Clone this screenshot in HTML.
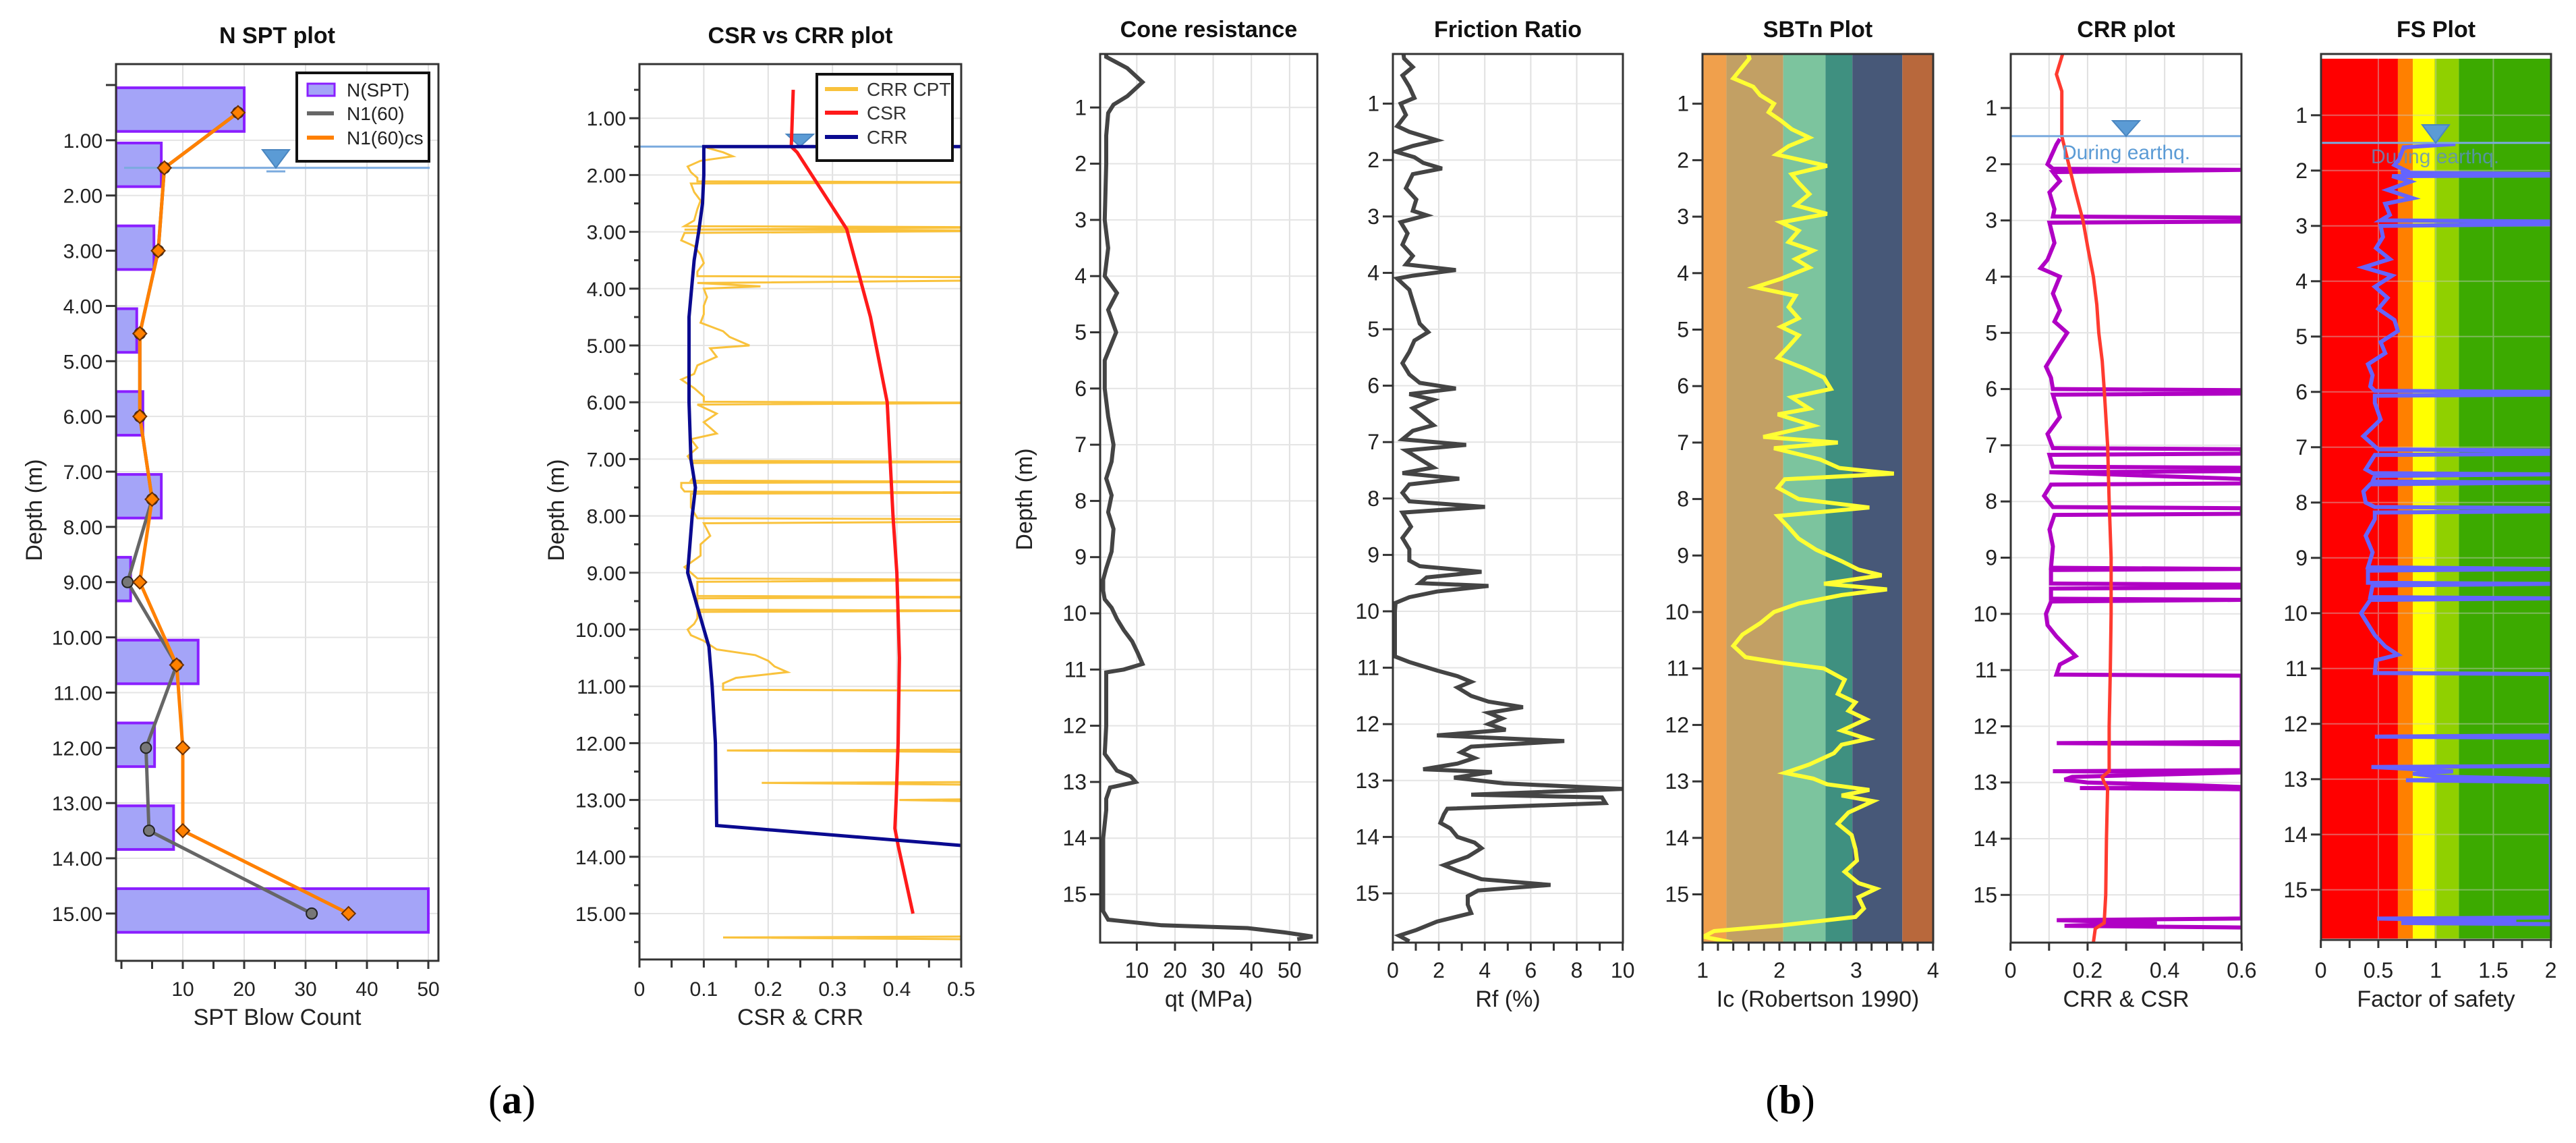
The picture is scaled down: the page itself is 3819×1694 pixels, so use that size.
<!DOCTYPE html>
<html><head><meta charset="utf-8">
<style>
html,body{margin:0;padding:0;background:#fff;}
svg{display:block;font-family:"Liberation Sans",sans-serif;}
</style></head>
<body>
<svg id="chart" xmlns="http://www.w3.org/2000/svg" width="3819" height="1694" viewBox="0 0 3819 1694">
<rect x="0" y="0" width="3819" height="1694" fill="#fff"/>
<text x="759" y="1650" font-family="Liberation Serif,serif" font-size="60" text-anchor="middle">(<tspan font-weight="bold">a</tspan>)</text>
<text x="2654" y="1650" font-family="Liberation Serif,serif" font-size="60" text-anchor="middle">(<tspan font-weight="bold">b</tspan>)</text>
</svg>
<script>
// ---------- data: N SPT plot ----------
const nsptDepth = [0.5,1.5,3,4.5,6,7.5,9,10.5,12,13.5,15];
const nsptN = [20,6.5,5.3,2.5,3.5,6.5,1.5,12.5,5.4,8.5,50];
const n160 = [19,7,6,3,3,5,1,9,4,4.5,31];
const n160cs = [19,7,6,3,3,5,3,9,10,10,37];
const nsptXTicks = [10,20,30,40,50];
const depthLabelsA = ["1.00","2.00","3.00","4.00","5.00","6.00","7.00","8.00","9.00","10.00","11.00","12.00","13.00","14.00","15.00"];
// ---------- data: CSR vs CRR plot ----------
const csrDepth = [0.5,1.5,1.6,2.95,4.5,6.0,8.0,9.0,10.5,12.0,13.0,13.5,13.8,15.0];
const csrVal = [0.239,0.236,0.245,0.322,0.359,0.385,0.394,0.40,0.404,0.402,0.399,0.397,0.402,0.425];
const crrDepth = [1.5,1.5,2.0,2.5,3.0,3.5,4.5,5.5,6.0,7.0,7.5,8.0,9.0,9.6,10.3,11.0,12.0,13.45,13.8];
const crrVal = [0.6,0.1,0.1,0.098,0.092,0.085,0.077,0.077,0.077,0.08,0.087,0.082,0.075,0.09,0.108,0.113,0.118,0.12,0.5];
const crrCptProfile = [[1.52,0.105],[1.6,0.13],[1.67,0.145],[1.75,0.095],[1.85,0.075],[1.95,0.08],[2.05,0.09],[2.11,0.09],[2.13,0.6],[2.15,0.08],[2.3,0.085],[2.45,0.095],[2.6,0.09],[2.8,0.085],[2.9,0.07],[2.92,0.6],[2.96,0.07],[2.98,0.6],[3.02,0.07],[3.15,0.065],[3.25,0.085],[3.4,0.095],[3.55,0.1],[3.7,0.09],[3.78,0.09],[3.8,0.6],[3.85,0.6],[3.9,0.09],[3.96,0.188],[4.0,0.1],[4.15,0.105],[4.3,0.1],[4.45,0.1],[4.6,0.095],[4.75,0.13],[4.85,0.14],[5.0,0.171],[5.05,0.11],[5.2,0.12],[5.35,0.09],[5.5,0.085],[5.6,0.065],[5.75,0.085],[5.9,0.1],[5.99,0.1],[6.01,0.6],[6.04,0.09],[6.2,0.12],[6.35,0.1],[6.55,0.12],[6.65,0.08],[6.8,0.09],[6.95,0.075],[7.03,0.08],[7.05,0.6],[7.07,0.08],[7.3,0.085],[7.38,0.08],[7.4,0.6],[7.42,0.065],[7.5,0.065],[7.57,0.07],[7.59,0.6],[7.61,0.08],[7.85,0.08],[8.04,0.09],[8.06,0.6],[8.1,0.6],[8.13,0.1],[8.35,0.11],[8.5,0.095],[8.7,0.095],[8.9,0.07],[9.1,0.09],[9.13,0.6],[9.16,0.09],[9.3,0.09],[9.41,0.09],[9.43,0.6],[9.45,0.09],[9.55,0.09],[9.65,0.09],[9.67,0.6],[9.69,0.09],[9.8,0.09],[9.9,0.085],[10.0,0.075],[10.1,0.08],[10.2,0.1],[10.35,0.12],[10.45,0.18],[10.55,0.2],[10.65,0.21],[10.75,0.23],[10.85,0.15],[10.95,0.13],[11.06,0.13],[11.08,0.6],[12.11,0.6],[12.13,0.136],[12.16,0.6],[12.68,0.6],[12.7,0.19],[12.74,0.6],[12.98,0.6],[13.0,0.404],[13.04,0.6],[15.4,0.6],[15.42,0.13],[15.46,0.6]];
const csrXTicks = [0,0.1,0.2,0.3,0.4,0.5];
const csrXLabels = ["0","0.1","0.2","0.3","0.4","0.5"];
// ---------- data: panel b ----------
const coneProfile = [[0.05,2],[0.1,2],[0.3,7.5],[0.55,11.5],[0.8,7.5],[0.95,3.9],[1.1,2.5],[1.5,2],[2.0,2],[2.5,1.8],[3.0,1.6],[3.5,2.5],[4.0,1.6],[4.3,4.8],[4.6,2.5],[5.0,4.6],[5.5,1.6],[6.0,1.6],[6.5,2.5],[7.0,3.9],[7.3,3.4],[7.6,2],[7.9,3.4],[8.2,2.5],[8.5,3.9],[8.9,3.4],[9.2,2],[9.4,1.2],[9.6,1.2],[9.75,1.6],[9.9,3.4],[10.1,4.8],[10.3,6.6],[10.5,8.8],[10.7,10.2],[10.9,11.5],[11.0,6.6],[11.05,2],[11.5,2],[12.0,2],[12.5,1.6],[12.8,4.8],[12.9,8.4],[13.0,9.7],[13.1,3],[13.3,2],[13.5,2],[14.0,1.2],[14.5,1.2],[15.0,1.2],[15.3,1.2],[15.45,2.5],[15.55,16.5],[15.6,39],[15.68,49],[15.75,56],[15.8,52]];
const frictionProfile = [[0.0,0.42],[0.2,0.49],[0.35,0.87],[0.5,0.42],[0.7,0.72],[0.9,0.94],[1.0,0.34],[1.2,0.57],[1.4,0.19],[1.5,0.72],[1.65,1.92],[1.75,0.87],[1.85,0.12],[1.95,0.94],[2.05,1.32],[2.15,2.14],[2.25,0.87],[2.5,0.57],[2.7,1.02],[2.9,0.87],[2.98,1.47],[3.1,0.34],[3.3,0.64],[3.5,0.42],[3.7,0.87],[3.85,0.57],[3.95,2.74],[4.05,0.87],[4.1,0.19],[4.3,0.72],[4.5,0.87],[4.7,1.02],[4.9,1.17],[5.05,1.54],[5.2,0.94],[5.4,0.72],[5.6,0.42],[5.8,0.72],[5.95,1.17],[6.05,2.74],[6.15,0.72],[6.25,1.77],[6.4,0.87],[6.55,1.32],[6.7,1.77],[6.8,0.87],[6.95,0.42],[7.05,3.19],[7.15,0.57],[7.3,1.17],[7.45,1.77],[7.55,0.42],[7.65,2.89],[7.75,0.72],[7.9,0.42],[8.05,0.72],[8.15,4.01],[8.25,0.42],[8.5,0.79],[8.7,0.42],[8.9,0.72],[9.1,0.72],[9.2,1.17],[9.3,3.86],[9.4,1.47],[9.5,1.17],[9.55,4.16],[9.65,1.92],[9.75,0.72],[9.85,0.12],[10.0,0.09],[10.5,0.09],[10.8,0.09],[10.9,0.72],[11.05,1.92],[11.15,2.81],[11.25,3.41],[11.35,2.81],[11.5,3.41],[11.6,4.16],[11.7,5.66],[11.8,4.16],[11.9,4.76],[12.0,4.16],[12.1,4.91],[12.2,1.92],[12.3,7.46],[12.4,3.41],[12.5,2.96],[12.6,3.56],[12.7,2.81],[12.8,1.32],[12.85,4.31],[12.95,2.66],[13.05,4.84],[13.15,10],[13.25,3.41],[13.3,9.1],[13.4,9.25],[13.5,2.37],[13.6,2.22],[13.75,2.07],[13.85,2.51],[14.0,2.81],[14.1,3.56],[14.2,3.86],[14.35,3.26],[14.5,2.22],[14.6,2.81],[14.75,3.86],[14.85,6.86],[14.95,3.71],[15.05,3.26],[15.2,3.26],[15.35,3.41],[15.5,1.92],[15.65,1.02],[15.75,0.27],[15.85,0.72]];
const sbtnProfile = [[0.1,1.59],[0.2,1.61],[0.35,1.52],[0.55,1.40],[0.7,1.66],[0.85,1.75],[1.0,1.93],[1.15,1.86],[1.3,2.02],[1.45,2.16],[1.6,2.39],[1.75,2.12],[1.9,1.96],[2.1,2.62],[2.25,2.16],[2.4,2.25],[2.6,2.39],[2.8,2.21],[2.95,2.62],[3.1,2.02],[3.25,2.25],[3.45,2.12],[3.6,2.44],[3.75,2.21],[3.9,2.39],[4.1,2.02],[4.25,1.68],[4.4,2.21],[4.6,2.12],[4.8,2.25],[4.95,2.02],[5.1,2.25],[5.3,2.12],[5.5,1.98],[5.7,2.35],[5.85,2.58],[6.05,2.67],[6.2,2.16],[6.4,2.39],[6.5,1.98],[6.7,2.44],[6.9,1.79],[7.0,2.76],[7.1,1.93],[7.3,2.53],[7.45,2.78],[7.55,3.49],[7.65,2.07],[7.8,1.98],[8.0,2.25],[8.15,3.17],[8.3,1.98],[8.5,2.12],[8.7,2.25],[8.9,2.48],[9.1,2.81],[9.25,3.03],[9.35,3.33],[9.5,2.58],[9.6,3.40],[9.7,2.81],[9.85,2.25],[10.0,1.93],[10.2,1.75],[10.4,1.52],[10.6,1.40],[10.8,1.56],[10.9,2.02],[11.0,2.58],[11.2,2.85],[11.45,2.76],[11.6,2.99],[11.75,2.90],[11.9,3.13],[12.1,2.81],[12.25,3.15],[12.35,2.81],[12.5,2.71],[12.7,2.39],[12.85,2.07],[12.95,2.44],[13.05,2.62],[13.15,3.17],[13.25,2.81],[13.35,3.22],[13.55,2.90],[13.75,2.76],[13.95,2.94],[14.2,2.99],[14.4,3.01],[14.6,2.85],[14.8,3.03],[14.9,3.26],[15.05,3.03],[15.25,3.10],[15.4,2.99],[15.55,2.02],[15.65,1.15],[15.75,1.01],[15.85,1.38]];
const sbtnZoneBounds = [1,1.31,2.05,2.6,2.95,3.6,4];
const crrPlotCsr = [[0,0.137],[0.4,0.119],[0.7,0.133],[1.0,0.133],[1.5,0.133],[2.0,0.151],[2.5,0.169],[3.0,0.188],[3.5,0.201],[4.0,0.215],[4.5,0.224],[5.0,0.229],[5.5,0.238],[6.0,0.243],[7.0,0.252],[8.0,0.256],[9.0,0.261],[10.0,0.261],[11.0,0.259],[12.0,0.256],[12.8,0.256],[12.9,0.238],[13.0,0.243],[13.1,0.252],[14.0,0.249],[15.0,0.247],[15.5,0.243],[15.6,0.22],[15.85,0.215]];
const crrPlotCrr = [[1.55,0.128],[1.65,0.119],[2.0,0.096],[2.08,0.11],[2.1,0.6],[2.14,0.11],[2.3,0.128],[2.5,0.101],[2.8,0.114],[2.93,0.11],[2.95,0.6],[3.02,0.6],[3.04,0.101],[3.4,0.114],[3.7,0.096],[3.85,0.078],[4.0,0.128],[4.3,0.11],[4.6,0.128],[4.8,0.114],[5.0,0.147],[5.2,0.128],[5.4,0.11],[5.6,0.092],[5.8,0.105],[6.0,0.11],[6.02,0.6],[6.08,0.6],[6.1,0.11],[6.5,0.128],[6.8,0.096],[7.05,0.11],[7.07,0.6],[7.15,0.6],[7.17,0.101],[7.38,0.11],[7.4,0.6],[7.46,0.6],[7.48,0.101],[7.6,0.6],[7.68,0.6],[7.7,0.105],[7.9,0.087],[8.1,0.11],[8.12,0.6],[8.22,0.6],[8.24,0.114],[8.5,0.101],[8.8,0.11],[9.18,0.105],[9.2,0.6],[9.22,0.105],[9.46,0.105],[9.48,0.6],[9.53,0.6],[9.55,0.105],[9.73,0.105],[9.75,0.6],[9.78,0.105],[10.0,0.092],[10.2,0.096],[10.4,0.119],[10.6,0.147],[10.75,0.169],[10.9,0.128],[11.08,0.119],[11.1,0.6],[12.28,0.6],[12.3,0.12],[12.32,0.6],[12.78,0.6],[12.8,0.11],[12.82,0.6],[12.9,0.16],[12.95,0.14],[13.0,0.2],[13.05,0.48],[13.08,0.6],[13.1,0.18],[13.12,0.6],[15.42,0.6],[15.45,0.12],[15.5,0.38],[15.55,0.14],[15.58,0.6]];
const fsProfile = [[1.52,1.17],[1.58,0.72],[1.8,0.68],[1.9,0.64],[2.0,0.74],[2.04,0.7],[2.06,2],[2.09,2],[2.1,0.62],[2.2,0.78],[2.35,0.58],[2.5,0.80],[2.6,0.56],[2.8,0.60],[2.9,0.52],[2.92,2],[2.97,2],[3.0,0.52],[3.2,0.54],[3.4,0.48],[3.6,0.60],[3.75,0.37],[3.9,0.62],[4.1,0.47],[4.3,0.58],[4.5,0.50],[4.7,0.64],[4.9,0.67],[5.1,0.52],[5.3,0.56],[5.5,0.41],[5.7,0.45],[5.9,0.43],[5.98,0.47],[6.0,2],[6.05,2],[6.07,0.47],[6.2,0.47],[6.5,0.52],[6.8,0.37],[7.04,0.5],[7.06,2],[7.12,2],[7.14,0.47],[7.4,0.39],[7.47,0.45],[7.49,2],[7.52,0.47],[7.62,0.45],[7.64,2],[7.67,0.43],[7.8,0.37],[8.0,0.39],[8.08,0.47],[8.1,2],[8.16,2],[8.18,0.47],[8.3,0.47],[8.6,0.39],[8.9,0.45],[9.17,0.41],[9.2,2],[9.23,0.41],[9.45,0.41],[9.47,2],[9.5,0.45],[9.71,0.43],[9.73,2],[9.76,0.43],[10.0,0.35],[10.2,0.41],[10.4,0.47],[10.6,0.56],[10.75,0.67],[10.85,0.48],[11.08,0.47],[11.1,2],[12.21,2],[12.23,0.47],[12.25,2],[12.76,2],[12.78,0.44],[12.8,0.65],[12.86,1.15],[12.9,0.8],[12.95,1.0],[13.0,2],[13.02,0.74],[13.05,2],[15.5,2],[15.52,0.49],[15.56,1.7],[15.6,0.7],[15.62,2]];
const fsZoneBounds = [0,0.67,0.8,0.99,1.2,2];
const depthLabelsB = ["1","2","3","4","5","6","7","8","9","10","11","12","13","14","15"];

const NS = "http://www.w3.org/2000/svg";
const S = document.getElementById('chart');
function mk(tag, attrs, parent){
  const e = document.createElementNS(NS, tag);
  for (const k in attrs) e.setAttribute(k, attrs[k]);
  (parent || S).appendChild(e);
  return e;
}
function txt(str, attrs, parent){ const t = mk('text', attrs, parent); t.textContent = str; return t; }
let clipN = 0;
function clipFor(p){
  const id = 'clip' + (clipN++);
  const cp = mk('clipPath', {id:id});
  mk('rect', {x:p.x0, y:p.y0, width:p.x1-p.x0, height:p.y1-p.y0}, cp);
  const g = mk('g', {'clip-path':'url(#'+id+')'});
  
  
  return g;
}
function gridAndAxes(p){
  const g = mk('g', {});
  
  
  p.xGrid.forEach(v => {
    const l = mk('line', {x1:p.xs(v), x2:p.xs(v), y1:p.y0, y2:p.y1, stroke:'#e0e0e0', 'stroke-width':2}, g);
    
    
  });
  for (let d = 1; d <= 15; d++) {
    const l = mk('line', {x1:p.x0, x2:p.x1, y1:p.ys(d), y2:p.ys(d), stroke:'#e4e4e4', 'stroke-width':2}, g);
    
    
  }
  return g;
}
function frameAndTicks(p){
  const g = mk('g', {});
  
  
  const fr = mk('rect', {x:p.x0, y:p.y0, width:p.x1-p.x0, height:p.y1-p.y0, fill:'none', stroke:'#333', 'stroke-width':3}, g);
  
  
  p.xMinor.forEach(v => {
    const t = mk('line', {x1:p.xs(v), x2:p.xs(v), y1:p.y1, y2:p.y1+12, stroke:'#333', 'stroke-width':3}, g);
    
    
  });
  p.xTicks.forEach((v, i) => {
    const t = txt(p.xLabels[i], {x:p.xs(v), y:p.labY, 'font-size':p.fs, 'text-anchor':'middle', fill:'#222'}, g);
    
    
  });
  p.yMinor.forEach(d => {
    const t = mk('line', {x1:p.x0-8, x2:p.x0, y1:p.ys(d), y2:p.ys(d), stroke:'#333', 'stroke-width':3}, g);
    
    
  });
  for (let d = p.yStart; d <= 15; d++) {
    const t = mk('line', {x1:p.x0-15, x2:p.x0, y1:p.ys(d), y2:p.ys(d), stroke:'#333', 'stroke-width':3}, g);
    
    
  }
  p.yLabels.forEach((s, i) => {
    const t = txt(s, {x:p.x0-20, y:p.ys(i+1)+11, 'font-size':p.fs, 'text-anchor':'end', fill:'#222'}, g);
    
    
  });
  const tt = txt(p.title, {x:(p.x0+p.x1)/2, y:p.titleY, 'font-size':34, 'font-weight':'bold', 'text-anchor':'middle', fill:'#111'}, g);
  
  
  const xt = txt(p.xTitle, {x:(p.x0+p.x1)/2, y:p.xTitleY, 'font-size':34, 'text-anchor':'middle', fill:'#222'}, g);
  
  
}
function polyFromPairs(pairs, p){ return pairs.map(q => p.xs(q[1]).toFixed(1) + ',' + p.ys(q[0]).toFixed(1)).join(' '); }
function polyFromArrays(ds, vs, p){ return ds.map((d, i) => p.xs(vs[i]).toFixed(1) + ',' + p.ys(d).toFixed(1)).join(' '); }
function depthTitle(x, y){
  const t = txt('Depth (m)', {x:x, y:y, 'font-size':34, 'text-anchor':'middle', fill:'#222', transform:'rotate(-90 '+x+' '+y+')'});
  
  
}
function waterTable(p, g, xTri, yTop){
  const y = p.ys(1.5);
  const l = mk('line', {x1:p.x0, x2:p.x1, y1:y, y2:y, stroke:'#7aaade', 'stroke-width':3}, g);
  
  
  const tr = mk('polygon', {points:(xTri-20)+','+yTop+' '+(xTri+20)+','+yTop+' '+xTri+','+y, fill:'#5b9bd5', stroke:'#4a86c0', 'stroke-width':2}, g);
  
  
}
function range(a, b, s){ const r = []; for (let v = a; v <= b + 1e-9; v += s) r.push(+v.toFixed(4)); return r; }

// =============== Panel A1: N SPT ===============
const pA1 = {name:'nspt', x0:172, x1:650, y0:95, y1:1424, xs:v=>180+9.1*v, ys:d=>126+81.86*d,
  xGrid:nsptXTicks, xMinor:range(0,50,5), xTicks:nsptXTicks, xLabels:nsptXTicks.map(String),
  yMinor:[], yStart:0, yLabels:depthLabelsA, fs:30, labY:1476, title:'N SPT plot', titleY:64,
  xTitle:'SPT Blow Count', xTitleY:1519};
gridAndAxes(pA1);
{
  const g = clipFor(pA1);
  nsptDepth.forEach((d, i) => {
    const r = mk('rect', {x:pA1.xs(0)-8, y:pA1.ys(d-0.45), width:pA1.xs(nsptN[i])-pA1.xs(0)+8, height:pA1.ys(d+0.34)-pA1.ys(d-0.45), fill:'#a4a4f8', stroke:'#8a1fff', 'stroke-width':4}, g);
    
    
  });
  waterTable({name:'nspt', x0:184, x1:637, ys:pA1.ys}, g, 409, 222);
  const wl1 = mk('line', {x1:395, x2:423, y1:254, y2:254, stroke:'#7aaade', 'stroke-width':3}, g);
  
  
  const gl = mk('polyline', {points:polyFromArrays(nsptDepth, n160, pA1), fill:'none', stroke:'#666', 'stroke-width':5}, g);
  
  
  const ol = mk('polyline', {points:polyFromArrays(nsptDepth, n160cs, pA1), fill:'none', stroke:'#ff8000', 'stroke-width':5}, g);
  
  
  nsptDepth.forEach((d, i) => {
    const c = mk('circle', {cx:pA1.xs(n160[i]), cy:pA1.ys(d), r:8, fill:'#777', stroke:'#222', 'stroke-width':2}, g);
    
    
  });
  nsptDepth.forEach((d, i) => {
    const x = pA1.xs(n160cs[i]), y = pA1.ys(d);
    const m = mk('polygon', {points:(x-10)+','+y+' '+x+','+(y-10)+' '+(x+10)+','+y+' '+x+','+(y+10), fill:'#ff8000', stroke:'#6b3000', 'stroke-width':2}, g);
    
    
  });
  const lg = mk('g', {});
  
  
  const lb = mk('rect', {x:440, y:108, width:196, height:131, fill:'#fff', stroke:'#111', 'stroke-width':4}, lg);
  
  
  const s1 = mk('rect', {x:456, y:124, width:40, height:18, fill:'#a4a4f8', stroke:'#8a1fff', 'stroke-width':3}, lg);
  
  
  const s2 = mk('line', {x1:455, x2:495, y1:168, y2:168, stroke:'#666', 'stroke-width':6}, lg);
  
  
  const s3 = mk('line', {x1:455, x2:495, y1:204, y2:204, stroke:'#ff8000', 'stroke-width':6}, lg);
  
  
  const e1 = txt('N(SPT)', {x:514, y:143, 'font-size':28, fill:'#222'}, lg);
  
  
  const e2 = txt('N1(60)', {x:514, y:178, 'font-size':28, fill:'#222'}, lg);
  
  
  const e3 = txt('N1(60)cs', {x:514, y:214, 'font-size':28, fill:'#222'}, lg);
  
  
}
frameAndTicks(pA1);
depthTitle(62, 756);

// =============== Panel A2: CSR vs CRR ===============
const pA2 = {name:'csr-crr', x0:948, x1:1425, y0:95, y1:1422, xs:v=>948+954*v, ys:d=>91+84.2*d,
  xGrid:csrXTicks, xMinor:range(0,0.5,0.05), xTicks:csrXTicks, xLabels:csrXLabels,
  yMinor:range(0.5,15.5,1), yStart:1, yLabels:depthLabelsA, fs:30, labY:1476, title:'CSR vs CRR plot', titleY:64,
  xTitle:'CSR & CRR', xTitleY:1519};
gridAndAxes(pA2);
{
  const g = clipFor(pA2);
  waterTable(pA2, g, 1186, 199);
  const yl = mk('polyline', {points:polyFromPairs(crrCptProfile, pA2), fill:'none', stroke:'#f9c23c', 'stroke-width':3}, g);
  
  
  const rl = mk('polyline', {points:polyFromArrays(csrDepth, csrVal, pA2), fill:'none', stroke:'#ff1a1a', 'stroke-width':5}, g);
  
  
  const bl = mk('polyline', {points:polyFromArrays(crrDepth, crrVal, pA2), fill:'none', stroke:'#0a0a90', 'stroke-width':5}, g);
  
  
  const lg = mk('g', {});
  
  
  const lb = mk('rect', {x:1211, y:110, width:201, height:128, fill:'#fff', stroke:'#111', 'stroke-width':4}, lg);
  
  
  const sw = [['#f9c23c','CRR  CPT',132,'crr-cpt'],['#ff1a1a','CSR',167,'csr'],['#0a0a90','CRR',203,'crr']];
  sw.forEach(s => {
    const l = mk('line', {x1:1223, x2:1272, y1:s[2], y2:s[2], stroke:s[0], 'stroke-width':6}, lg);
    
    
    const t = txt(s[1], {x:1285, y:s[2]+10, 'font-size':28, fill:'#333', 'xml:space':'preserve'}, lg);
    
    
  });
}
frameAndTicks(pA2);
depthTitle(836, 756);

// =============== Panel B ===============
const bCommon = {y0:80, y1:1397, fs:32, labY:1449, titleY:55, xTitleY:1492, yMinor:[], yStart:1, yLabels:depthLabelsB};
const coneTicks = [10,20,30,40,50];
const pCone = Object.assign({}, bCommon, {name:'cone', x0:1631, x1:1953, xs:v=>1628.7+5.663*v, ys:d=>76+83.3*d,
  xGrid:coneTicks, xMinor:coneTicks, xTicks:coneTicks, xLabels:coneTicks.map(String), title:'Cone resistance', xTitle:'qt (MPa)'});
const rfTicks = [0,2,4,6,8,10];
const pRf = Object.assign({}, bCommon, {name:'friction', x0:2065, x1:2406, xs:v=>2064.9+34.08*v, ys:d=>70+83.6*d,
  xGrid:rfTicks, xMinor:range(0,10,1), xTicks:rfTicks, xLabels:rfTicks.map(String), title:'Friction Ratio', xTitle:'Rf (%)'});
const icTicks = [1,2,3,4];
const pIc = Object.assign({}, bCommon, {name:'sbtn', x0:2524, x1:2866, xs:v=>2524.1+113.9*(v-1), ys:d=>70+83.7*d,
  xGrid:icTicks, xMinor:range(1,4,0.2), xTicks:icTicks, xLabels:icTicks.map(String), title:'SBTn Plot', xTitle:'Ic (Robertson 1990)'});
const crrTicks = [0,0.2,0.4,0.6];
const pCrr = Object.assign({}, bCommon, {name:'crr-plot', x0:2981, x1:3323, xs:v=>2980.7+571.1*v, ys:d=>76.8+83.3*d,
  xGrid:[0.1,0.2,0.3,0.4,0.5], xMinor:range(0,0.6,0.1), xTicks:crrTicks, xLabels:['0','0.2','0.4','0.6'], title:'CRR plot', xTitle:'CRR & CSR'});
const fsTicks = [0,0.5,1,1.5,2];
const pFs = Object.assign({}, bCommon, {name:'fs', x0:3441, x1:3782, y1:1393, xs:v=>3440.7+170.5*v, ys:d=>88.8+82.0*d,
  xGrid:fsTicks, xMinor:range(0,2,0.25), xTicks:fsTicks, xLabels:['0','0.5','1','1.5','2'], title:'FS Plot', xTitle:'Factor of safety'});

// Cone
gridAndAxes(pCone);
{ const g = clipFor(pCone);
  const l = mk('polyline', {points:polyFromPairs(coneProfile, pCone), fill:'none', stroke:'#444', 'stroke-width':6}, g);
  
   }
frameAndTicks(pCone);
depthTitle(1530, 740);

// Friction
gridAndAxes(pRf);
{ const g = clipFor(pRf);
  const l = mk('polyline', {points:polyFromPairs(frictionProfile, pRf), fill:'none', stroke:'#444', 'stroke-width':6}, g);
  
   }
frameAndTicks(pRf);

// SBTn
{ const g = clipFor(pIc);
  const zoneColors = ['#f0a04c','#c2a064','#7cc49e','#3f9080','#475878','#b8683c'];
  for (let i = 0; i < zoneColors.length; i++) {
    const r = mk('rect', {x:pIc.xs(sbtnZoneBounds[i]), y:pIc.y0, width:pIc.xs(sbtnZoneBounds[i+1])-pIc.xs(sbtnZoneBounds[i]), height:pIc.y1-pIc.y0, fill:zoneColors[i]}, g);
    
    
  }
  const l = mk('polyline', {points:polyFromPairs(sbtnProfile, pIc), fill:'none', stroke:'#ffff33', 'stroke-width':6}, g);
  
   }
frameAndTicks(pIc);

// CRR plot
gridAndAxes(pCrr);
{ const g = clipFor(pCrr);
  const p = mk('polyline', {points:polyFromPairs(crrPlotCrr, pCrr), fill:'none', stroke:'#b000c4', 'stroke-width':6}, g);
  
  
  const r = mk('polyline', {points:polyFromPairs(crrPlotCsr, pCrr), fill:'none', stroke:'#ff3b30', 'stroke-width':5}, g);
  
  
  waterTable(pCrr, g, 3152, 179);
  const t = txt('During earthq.', {x:3057, y:236, 'font-size':30, fill:'#5b9bd5'}, g);
  
   }
frameAndTicks(pCrr);

// FS plot
{ const g = clipFor(pFs);
  const zc = ['#ff0000','#ff8000','#ffff00','#90d000','#3caa00'];
  for (let i = 0; i < zc.length; i++) {
    const r = mk('rect', {x:pFs.xs(fsZoneBounds[i]), y:87, width:pFs.xs(fsZoneBounds[i+1])-pFs.xs(fsZoneBounds[i]), height:1304, fill:zc[i]}, g);
    
    
  }
}
{ const g = mk('g', {opacity:0.45});
  
  
  [0.5,1,1.5].forEach(v => {
    const l = mk('line', {x1:pFs.xs(v), x2:pFs.xs(v), y1:87, y2:1391, stroke:'#ccc', 'stroke-width':2}, g);
    
    
  });
  for (let d = 1; d <= 15; d++) {
    const l = mk('line', {x1:pFs.x0, x2:pFs.x1, y1:pFs.ys(d), y2:pFs.ys(d), stroke:'#ccc', 'stroke-width':2}, g);
    
    
  }
}
{ const g = clipFor(pFs);
  const t = txt('During earthq.', {x:3515, y:242, 'font-size':30, fill:'#5b8fc8', opacity:0.8}, g);
  
  
  const l = mk('polyline', {points:polyFromPairs(fsProfile, pFs), fill:'none', stroke:'#6464ff', 'stroke-width':6}, g);
  
  
  waterTable(pFs, g, 3611, 185); }
pFs.xGrid = [];
frameAndTicks(pFs);
</script>
</body></html>
